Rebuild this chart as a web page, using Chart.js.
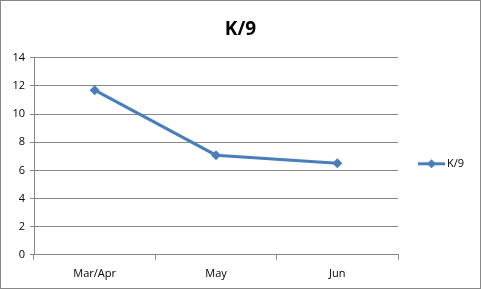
<!DOCTYPE html>
<html>
<head>
<meta charset="utf-8">
<script src="https://cdn.jsdelivr.net/npm/chart.js@4"></script>
<style>
  body { margin: 0; background: #fff; }
  #box { width: 481px; height: 289px; border: 1px solid #878787; box-sizing: border-box; }
  canvas { display: block; }
</style>
</head>
<body>
<div id="box"><canvas id="myChart" width="479" height="287"></canvas></div>
<script>
// values
const months = ["Mar/Apr", "May", "Jun"];
const k9 = [11.7, 7.08, 6.5];
const yTicks = [0, 2, 4, 6, 8, 10, 12, 14];
const seriesName = "K/9";

const lineColor = "#4a7ebb";
const fontFamily = "'Open Sans', 'Noto Sans', sans-serif";

// legend on the right: line with a diamond and the series name
const sideLegend = {
  id: 'sideLegend',
  afterDraw(chart) {
    const ctx = chart.ctx;
    const x = chart.chartArea.right + 20;
    const y = chart.chartArea.bottom - 91;
    ctx.save();
    ctx.strokeStyle = lineColor;
    ctx.lineWidth = 3;
    ctx.beginPath(); ctx.moveTo(x, y); ctx.lineTo(x + 27, y); ctx.stroke();
    ctx.fillStyle = lineColor;
    ctx.beginPath();
    ctx.moveTo(x + 13.5, y - 4.5); ctx.lineTo(x + 18, y); ctx.lineTo(x + 13.5, y + 4.5); ctx.lineTo(x + 9, y);
    ctx.closePath(); ctx.fill();
    ctx.fillStyle = "#000";
    ctx.font = "11px " + fontFamily;
    ctx.textBaseline = 'middle';
    ctx.fillText(seriesName, x + 29, y);
    ctx.restore();
  }
};

Chart.defaults.font.family = fontFamily;
Chart.defaults.color = "#000";

new Chart(document.getElementById('myChart'), {
  type: 'line',
  data: {
    labels: months,
    datasets: [{
      label: seriesName,
      data: k9,
      borderColor: lineColor,
      backgroundColor: lineColor,
      borderWidth: 3,
      pointStyle: 'rectRot',
      pointRadius: 5,
      pointBorderWidth: 0,
      tension: 0
    }]
  },
  options: {
    responsive: false,
    animation: false,
    layout: { padding: { left: 0, right: 0, top: 0, bottom: 1 } },
    plugins: {
      title: {
        display: true,
        text: seriesName,
        font: { size: 19, weight: 'bold' },
        padding: { top: 17, bottom: 17 }
      },
      legend: { display: false },
      tooltip: { enabled: false }
    },
    scales: {
      x: {
        offset: true,
        grid: { offset: true, drawOnChartArea: false, drawTicks: true, tickLength: 5, color: "#878787" },
        border: { color: "#878787" },
        ticks: { font: { size: 11 }, padding: 7 }
      },
      y: {
        min: 0,
        max: 14,
        afterBuildTicks: axis => { axis.ticks = yTicks.map(v => ({ value: v })); },
        afterFit: axis => { axis.width = 33; },
        grid: { color: "#878787", tickLength: 4 },
        border: { color: "#878787" },
        ticks: { font: { size: 11 }, padding: 5 }
      },
      // empty axis on the right that keeps room for the legend
      side: {
        position: 'right',
        display: true,
        afterFit: axis => { axis.width = 82; },
        grid: { display: false, drawOnChartArea: false },
        border: { display: false },
        ticks: { display: false }
      }
    }
  },
  plugins: [sideLegend]
});
</script>
</body>
</html>
